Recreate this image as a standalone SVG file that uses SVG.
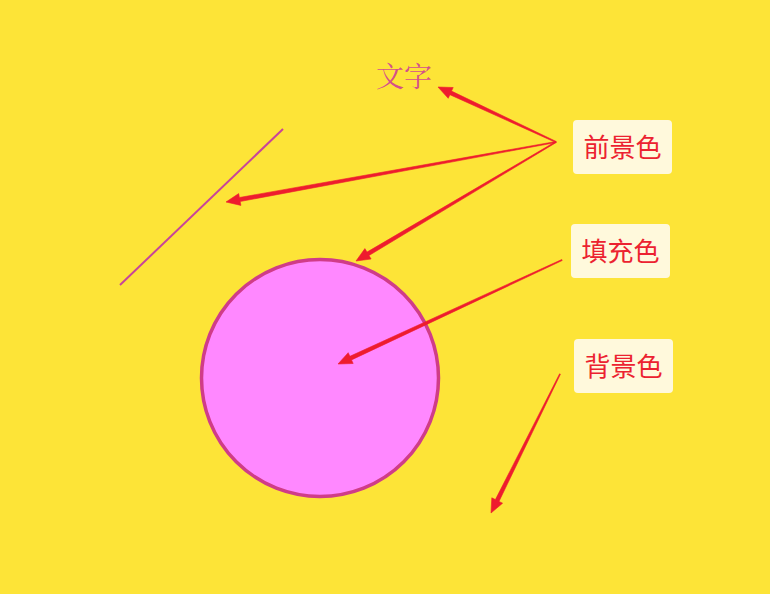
<svg xmlns="http://www.w3.org/2000/svg" width="770" height="594" viewBox="0 0 770 594">
<style>
.arrow{fill:#ee1c2e;stroke:#ee1c2e;stroke-width:0.6;stroke-linejoin:round}
.box{fill:#fff9dc}
.lbl{font-family:"Noto Sans CJK SC","Noto Sans",sans-serif;font-size:26px;fill:#ec2230;text-anchor:middle}
</style>
<rect width="770" height="594" fill="#fde437"/>
<g id="shapes">
<line x1="120" y1="285" x2="283" y2="129" stroke="#c8449a" stroke-width="2"/>
<circle cx="320" cy="378" r="118.5" fill="#ff88ff" stroke="#d03c88" stroke-width="3.5"/>
<text x="404" y="87" font-family="'Noto Serif CJK SC','Noto Sans CJK SC',serif" font-size="28" fill="#d4508a" text-anchor="middle">文字</text>
</g>
<g id="connectors">
<polygon class="arrow" points="556.2,141.5 451.5,91.1 453.2,87.5 438,87 448.2,98.3 449.9,94.7 555.8,142.5"/>
<polygon class="arrow" points="555.9,141.5 239.4,197.5 238.7,193.6 226,202 240.9,205.4 240.2,201.5 556.1,142.5"/>
<polygon class="arrow" points="555.7,141.6 367.0,252.1 364.9,248.6 356,261 371.1,259.0 369.0,255.5 556.3,142.4"/>
<polygon class="arrow" points="561.8,259.5 349.9,356.3 348.2,352.7 338,364 353.2,363.5 351.5,359.9 562.2,260.5"/>
<polygon class="arrow" points="559.6,373.8 495.4,499.6 491.8,497.8 491,513 502.6,503.2 499.0,501.4 560.4,374.2"/>
</g>
<g id="fg">
<rect class="box" x="573" y="120" width="99" height="54" rx="4"/>
<text class="lbl" x="622.5" y="157">前景色</text>
</g>
<g id="fill">
<rect class="box" x="571" y="224" width="99" height="54" rx="4"/>
<text class="lbl" x="620.5" y="261">填充色</text>
</g>
<g id="bg">
<rect class="box" x="574" y="339" width="99" height="54" rx="4"/>
<text class="lbl" x="623.5" y="376">背景色</text>
</g>
</svg>
